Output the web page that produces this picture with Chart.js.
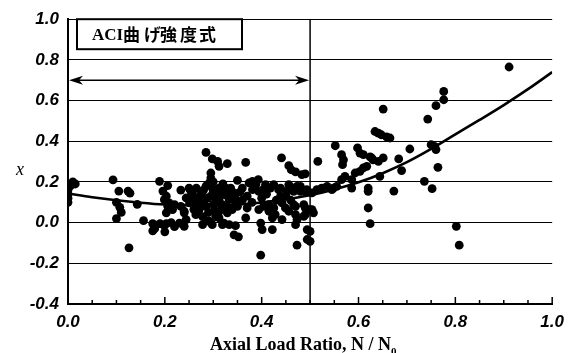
<!DOCTYPE html>
<html>
<head>
<meta charset="utf-8">
<script src="https://cdn.jsdelivr.net/npm/chart.js@4/dist/chart.umd.min.js"></script>
<style>
  body { margin: 0; background: #fff; }
  canvas { display: block; }
</style>
</head>
<body>
<canvas id="ratioChart" width="572" height="353"></canvas>
<script>
// test results: [axial load ratio, x]
const testPoints = [
  [0, 0.10], [0, 0.12], [0, 0.14], [0, 0.16], [0.005, 0.18], [0.01, 0.20], [0.015, 0.19],
  [0.093, 0.21], [0.105, 0.155], [0.124, 0.155], [0.128, 0.145], [0.10, 0.10], [0.107, 0.075],
  [0.11, 0.05], [0.10, 0.02], [0.126, -0.124], [0.143, 0.09],
  [0.156, 0.01], [0.175, -0.005], [0.18, -0.015], [0.179, -0.03], [0.175, -0.04], [0.19, -0.005],
  [0.199, -0.015], [0.20, -0.045], [0.203, -0.005], [0.213, 0.0], [0.22, -0.02], [0.24, -0.018], [0.23, -0.002],
  [0.189, 0.203], [0.206, 0.182], [0.196, 0.155], [0.203, 0.13], [0.199, 0.113], [0.206, 0.08],
  [0.216, 0.064], [0.22, 0.088], [0.209, 0.097], [0.203, 0.048], [0.233, 0.16], [0.25, 0.17],
  [0.254, 0.154], [0.257, 0.146], [0.264, 0.121], [0.24, 0.048], [0.257, 0.113], [0.26, 0.064],
  [0.264, 0.039], [0.233, 0.08], [0.244, 0.121], [0.251, 0.097], [0.271, 0.105], [0.281, 0.097],
  [0.261, 0.08], [0.271, 0.064], [0.24, 0.056], [0.244, 0.015],
  [0.285, 0.345], [0.298, 0.313], [0.309, 0.301], [0.312, 0.277], [0.329, 0.29], [0.295, 0.244],
  [0.295, 0.219], [0.292, 0.195], [0.298, 0.17], [0.312, 0.17], [0.326, 0.154], [0.336, 0.17],
  [0.339, 0.146], [0.35, 0.208], [0.326, 0.17], [0.343, 0.146], [0.322, 0.138], [0.333, 0.113],
  [0.312, 0.113], [0.319, 0.088], [0.316, 0.064], [0.329, 0.048], [0.339, 0.064], [0.346, 0.097],
  [0.285, 0.08], [0.29, 0.05], [0.30, 0.09], [0.305, 0.03], [0.295, 0.13], [0.288, 0.12],
  [0.302, 0.06], [0.278, 0.03], [0.312, 0.023], [0.322, -0.002], [0.333, -0.01], [0.346, -0.015],
  [0.278, -0.01], [0.298, -0.01], [0.319, -0.01], [0.343, -0.06], [0.352, -0.07], [0.29, 0.01], [0.295, 0.0],
  [0.28, 0.16], [0.30, 0.15], [0.305, 0.12], [0.315, 0.14], [0.33, 0.13], [0.345, 0.12],
  [0.355, 0.15], [0.36, 0.11], [0.285, 0.18], [0.30, 0.20], [0.32, 0.19], [0.275, 0.14],
  [0.265, 0.17], [0.31, 0.10], [0.325, 0.08], [0.35, 0.08], [0.27, 0.12], [0.31, 0.045],
  [0.367, 0.296], [0.37, 0.072], [0.374, 0.195], [0.381, 0.203], [0.388, 0.187], [0.393, 0.211],
  [0.381, 0.162], [0.394, 0.154], [0.404, 0.165], [0.408, 0.187], [0.418, 0.17], [0.425, 0.187],
  [0.435, 0.162], [0.439, 0.17], [0.456, 0.187], [0.452, 0.154], [0.394, 0.064], [0.404, 0.08],
  [0.415, 0.088], [0.415, 0.056], [0.425, 0.072], [0.428, 0.039], [0.422, 0.048], [0.422, 0.023],
  [0.367, 0.023], [0.398, -0.002], [0.401, -0.034], [0.422, -0.034], [0.398, -0.16], [0.441, 0.318],
  [0.439, 0.13], [0.442, 0.097], [0.442, 0.015],
  [0.36, 0.17], [0.37, 0.13], [0.40, 0.12], [0.41, 0.14], [0.43, 0.11], [0.45, 0.13],
  [0.46, 0.11], [0.38, 0.10],
  [0.456, 0.28], [0.461, 0.26], [0.47, 0.249], [0.483, 0.236], [0.49, 0.24], [0.466, 0.154],
  [0.47, 0.17], [0.473, 0.178], [0.48, 0.154], [0.493, 0.162], [0.48, 0.178], [0.49, 0.154],
  [0.449, 0.072], [0.456, 0.056], [0.466, 0.088], [0.47, 0.039], [0.473, 0.015], [0.47, 0.08],
  [0.49, 0.072], [0.49, 0.039], [0.487, 0.088], [0.487, 0.031], [0.47, -0.01], [0.494, -0.034],
  [0.494, -0.083], [0.473, -0.111], [0.50, -0.043], [0.50, -0.092], [0.50, 0.064],
  [0.504, 0.146], [0.514, 0.162], [0.524, 0.17], [0.535, 0.178], [0.545, 0.162], [0.555, 0.178],
  [0.548, 0.17], [0.565, 0.211], [0.572, 0.227], [0.586, 0.211], [0.593, 0.244], [0.603, 0.252],
  [0.61, 0.269], [0.617, 0.277], [0.627, 0.318], [0.516, 0.301], [0.552, 0.378], [0.565, 0.334],
  [0.569, 0.309], [0.567, 0.285], [0.598, 0.367], [0.603, 0.342], [0.61, 0.334], [0.586, 0.17],
  [0.62, 0.17], [0.62, 0.154], [0.504, 0.064], [0.507, 0.048], [0.62, 0.072], [0.624, -0.005],
  [0.624, 0.323], [0.63, 0.309], [0.641, 0.301], [0.651, 0.318], [0.634, 0.448], [0.641, 0.44],
  [0.647, 0.432], [0.658, 0.421], [0.665, 0.416], [0.651, 0.558], [0.644, 0.227], [0.673, 0.155],
  [0.683, 0.313], [0.689, 0.256], [0.706, 0.362], [0.736, 0.203], [0.752, 0.167], [0.743, 0.509],
  [0.76, 0.575], [0.776, 0.604], [0.776, 0.645], [0.75, 0.383], [0.757, 0.375], [0.76, 0.359],
  [0.764, 0.272], [0.802, -0.018], [0.808, -0.111], [0.911, 0.765]
];

// ACI flexural strength curve
const curveRatio = [0, 0.05, 0.1, 0.15, 0.2, 0.25, 0.3, 0.35, 0.4, 0.45, 0.5, 0.55, 0.6, 0.65, 0.7, 0.75, 0.8, 0.85, 0.9, 0.95, 1.0];
const curveX     = [0.143, 0.125, 0.11, 0.098, 0.089, 0.085, 0.084, 0.088, 0.099, 0.115, 0.135, 0.163, 0.198, 0.243, 0.297, 0.362, 0.434, 0.505, 0.578, 0.656, 0.74];

const dividerRatio = 0.5;          // vertical line
const arrowRange = [0, 0.5];       // double arrow span
const arrowLevel = 0.7;
const yTicks = [-0.4, -0.2, 0.0, 0.2, 0.4, 0.6, 0.8, 1.0];
const xTicks = [0.0, 0.2, 0.4, 0.6, 0.8, 1.0];
const minorStep = 0.05;

const tickFont = { family: 'Liberation Sans', size: 17, weight: 'bold', style: 'italic' };

function arrowHead (ctx, x, y, dir) {
  ctx.beginPath();
  ctx.moveTo(x, y);
  ctx.lineTo(x - dir * 14, y - 4.5);
  ctx.lineTo(x - dir * 10, y);
  ctx.lineTo(x - dir * 14, y + 4.5);
  ctx.closePath();
  ctx.fill();
}

const decorations = {
  id: 'decorations',
  beforeDatasetsDraw (chart) {
    const { ctx, chartArea: a, scales: { x, y } } = chart;
    ctx.save();
    ctx.strokeStyle = '#000';
    ctx.fillStyle = '#000';
    // divider at N/No = 0.5
    const xd = x.getPixelForValue(dividerRatio);
    ctx.lineWidth = 1.5;
    ctx.beginPath();
    ctx.moveTo(xd, a.top);
    ctx.lineTo(xd, a.bottom);
    ctx.stroke();
    // double arrow
    const x0 = x.getPixelForValue(arrowRange[0]) + 1;
    const x1 = x.getPixelForValue(arrowRange[1]) - 1;
    const ya = y.getPixelForValue(arrowLevel);
    ctx.lineWidth = 1.3;
    ctx.beginPath();
    ctx.moveTo(x0 + 8, ya);
    ctx.lineTo(x1 - 8, ya);
    ctx.stroke();
    arrowHead(ctx, x0, ya, -1);
    arrowHead(ctx, x1, ya, 1);
    ctx.restore();
  },
  afterDraw (chart) {
    const { ctx, chartArea: a, scales: { x } } = chart;
    ctx.save();
    ctx.strokeStyle = '#000';
    ctx.fillStyle = '#000';
    // inward tick marks on the bottom axis
    ctx.lineWidth = 1.5;
    for (let i = 0; i <= 20; i++) {
      const px = x.getPixelForValue(i * minorStep);
      const major = i % 4 === 0;
      ctx.beginPath();
      ctx.moveTo(px, a.bottom);
      ctx.lineTo(px, a.bottom - (major ? 7 : 4));
      ctx.stroke();
    }
    // label box
    const bx = a.left + 9, by = a.top, bw = 165, bh = 30;
    ctx.fillStyle = '#fff';
    ctx.fillRect(bx, by, bw, bh);
    ctx.lineWidth = 2;
    ctx.strokeRect(bx, by, bw, bh);
    ctx.fillStyle = '#000';
    ctx.textBaseline = 'alphabetic';
    ctx.font = 'bold 17px "Liberation Serif", serif';
    ctx.fillText('ACI', bx + 15, by + 21);
    ctx.font = 'bold 17px "Noto Sans CJK JP", sans-serif';
    const label = ['曲', 'げ', '強', '度', '式'];
    const offsets = [0, 21, 37, 57, 76];
    label.forEach((ch, i) => ctx.fillText(ch, bx + 46 + offsets[i], by + 22));
    // y axis title
    ctx.font = 'italic 18px "Liberation Serif", serif';
    ctx.textAlign = 'center';
    ctx.fillText('x', 20, 175);
    // x axis title
    ctx.textAlign = 'left';
    ctx.font = 'bold 18px "Liberation Serif", serif';
    const t = 'Axial Load Ratio, N / N';
    ctx.fillText(t, 210, 350);
    const tw = ctx.measureText(t).width;
    ctx.font = 'bold 11px "Liberation Serif", serif';
    ctx.fillText('0', 210 + tw, 355);
    ctx.restore();
  }
};

new Chart(document.getElementById('ratioChart'), {
  type: 'scatter',
  data: {
    datasets: [
      {
        type: 'line',
        data: curveRatio.map((r, i) => ({ x: r, y: curveX[i] })),
        borderColor: '#000',
        borderWidth: 2.6,
        pointRadius: 0,
        cubicInterpolationMode: 'monotone',
        fill: false
      },
      {
        data: testPoints.map(p => ({ x: p[0], y: p[1] })),
        backgroundColor: '#000',
        borderWidth: 0,
        pointRadius: 4.4
      }
    ]
  },
  options: {
    responsive: false,
    animation: false,
    layout: { padding: { top: 19, right: 17, left: 0, bottom: 0 } },
    plugins: { legend: { display: false }, tooltip: { enabled: false } },
    scales: {
      x: {
        type: 'linear',
        min: 0,
        max: 1,
        afterBuildTicks: s => { s.ticks = xTicks.map(v => ({ value: v })); },
        ticks: { callback: v => v.toFixed(1), font: tickFont, color: '#000', padding: 8, maxRotation: 0 },
        grid: { display: false, drawTicks: false },
        border: { color: '#000', width: 2 },
        afterFit: s => { s.height = 49; }
      },
      y: {
        min: -0.4,
        max: 1.0,
        afterBuildTicks: s => { s.ticks = yTicks.map(v => ({ value: v })); },
        ticks: { callback: v => v.toFixed(1), font: tickFont, color: '#000', padding: 9 },
        grid: { color: '#000', lineWidth: 1, drawTicks: false },
        border: { color: '#000', width: 2 },
        afterFit: s => { s.width = 68; }
      }
    }
  },
  plugins: [decorations]
});
</script>
</body>
</html>
